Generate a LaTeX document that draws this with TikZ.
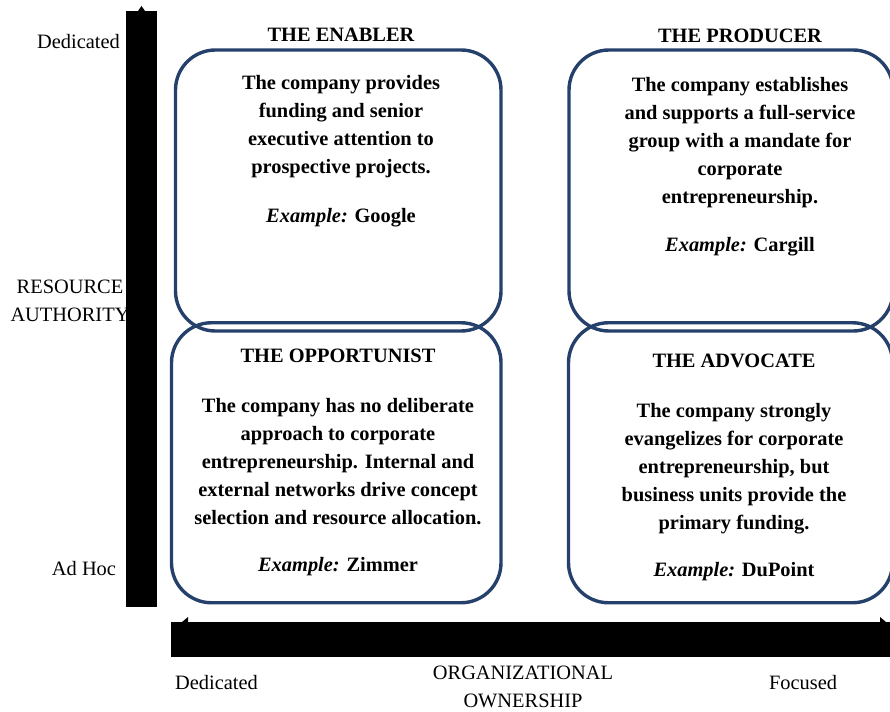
\documentclass[tikz,border=0pt]{standalone}
\usepackage{fontspec}
\setmainfont{Liberation Serif}
\definecolor{boxblue}{HTML}{24406B}
\begin{document}
\begin{tikzpicture}[x=1pt,y=-1pt,
  quad/.style={draw=boxblue, line width=3.4pt, rounded corners=40pt, inner sep=0pt},
  body/.style={font=\bfseries\fontsize{20.4}{28}\selectfont, align=center, inner sep=0pt, anchor=north},
  title/.style={font=\bfseries\fontsize{20.4}{28}\selectfont, inner sep=0pt, anchor=north},
  lab/.style={font=\fontsize{20.4}{28}\selectfont, align=center, inner sep=0pt},
  bar/.style={fill=black, draw=none}]
\useasboundingbox (0,0) rectangle (890,711);
\clip (0,0) rectangle (890,711);

% axis labels
\node[lab] (vtop) at (78.5,42) {Dedicated};
\node[lab] (vname) at (70,301) {RESOURCE\\AUTHORITY};
\node[lab] (vbot) at (84,569) {Ad Hoc};
\node[lab] (hleft) at (216.5,683) {Dedicated};
\node[lab] (hname) at (523,687) {ORGANIZATIONAL\\OWNERSHIP};
\node[lab] (hright) at (803,683) {Focused};

% axes: heavy bars with small tips
\fill[bar] (126,11) rectangle (157,607);
\fill[bar] (138,11) -- (141.5,6) -- (145,11) -- cycle;
\fill[bar] (171,622) rectangle (895,657);
\fill[bar] (182,622) -- (188,617) -- (188,622) -- cycle;
\fill[bar] (886,622) -- (880,617) -- (880,622) -- cycle;

% quadrant boxes
\node[quad, minimum width=325.5pt, minimum height=281pt] (enabler) at (338.25,190.5) {};
\node[quad, minimum width=329.5pt, minimum height=280pt] (opportunist) at (336.25,462.75) {};
\node[quad, minimum width=324pt, minimum height=281pt] (producer) at (731,190.5) {};
\node[quad, minimum width=324pt, minimum height=280pt] (advocate) at (730.5,462.75) {};

% titles
\node[title] (enablertitle) at (341,28) {THE ENABLER};
\node[title] (producertitle) at (740,29) {THE PRODUCER};
\node[title] (opportunisttitle) at (338,349) {THE OPPORTUNIST};
\node[title] (advocatetitle) at (734,354) {THE ADVOCATE};

% descriptions
\node[body] (enablertext) at (341,75) {The company provides\\funding and senior\\executive attention to\\prospective projects.\\[21pt]\textit{Example:} Google};
\node[body] (producertext) at (740,77) {The company establishes\\and supports a full-service\\group with a mandate for\\corporate\\entrepreneurship.\\[20pt]\textit{Example:} Cargill};
\node[body] (opportunisttext) at (338,398) {The company has no deliberate\\approach to corporate\\entrepreneurship. Internal and\\external networks drive concept\\selection and resource allocation.\\[19pt]\textit{Example:} Zimmer};
\node[body] (advocatetext) at (734,403) {The company strongly\\evangelizes for corporate\\entrepreneurship, but\\business units provide the\\primary funding.\\[19pt]\textit{Example:} DuPoint};
\end{tikzpicture}
\end{document}
